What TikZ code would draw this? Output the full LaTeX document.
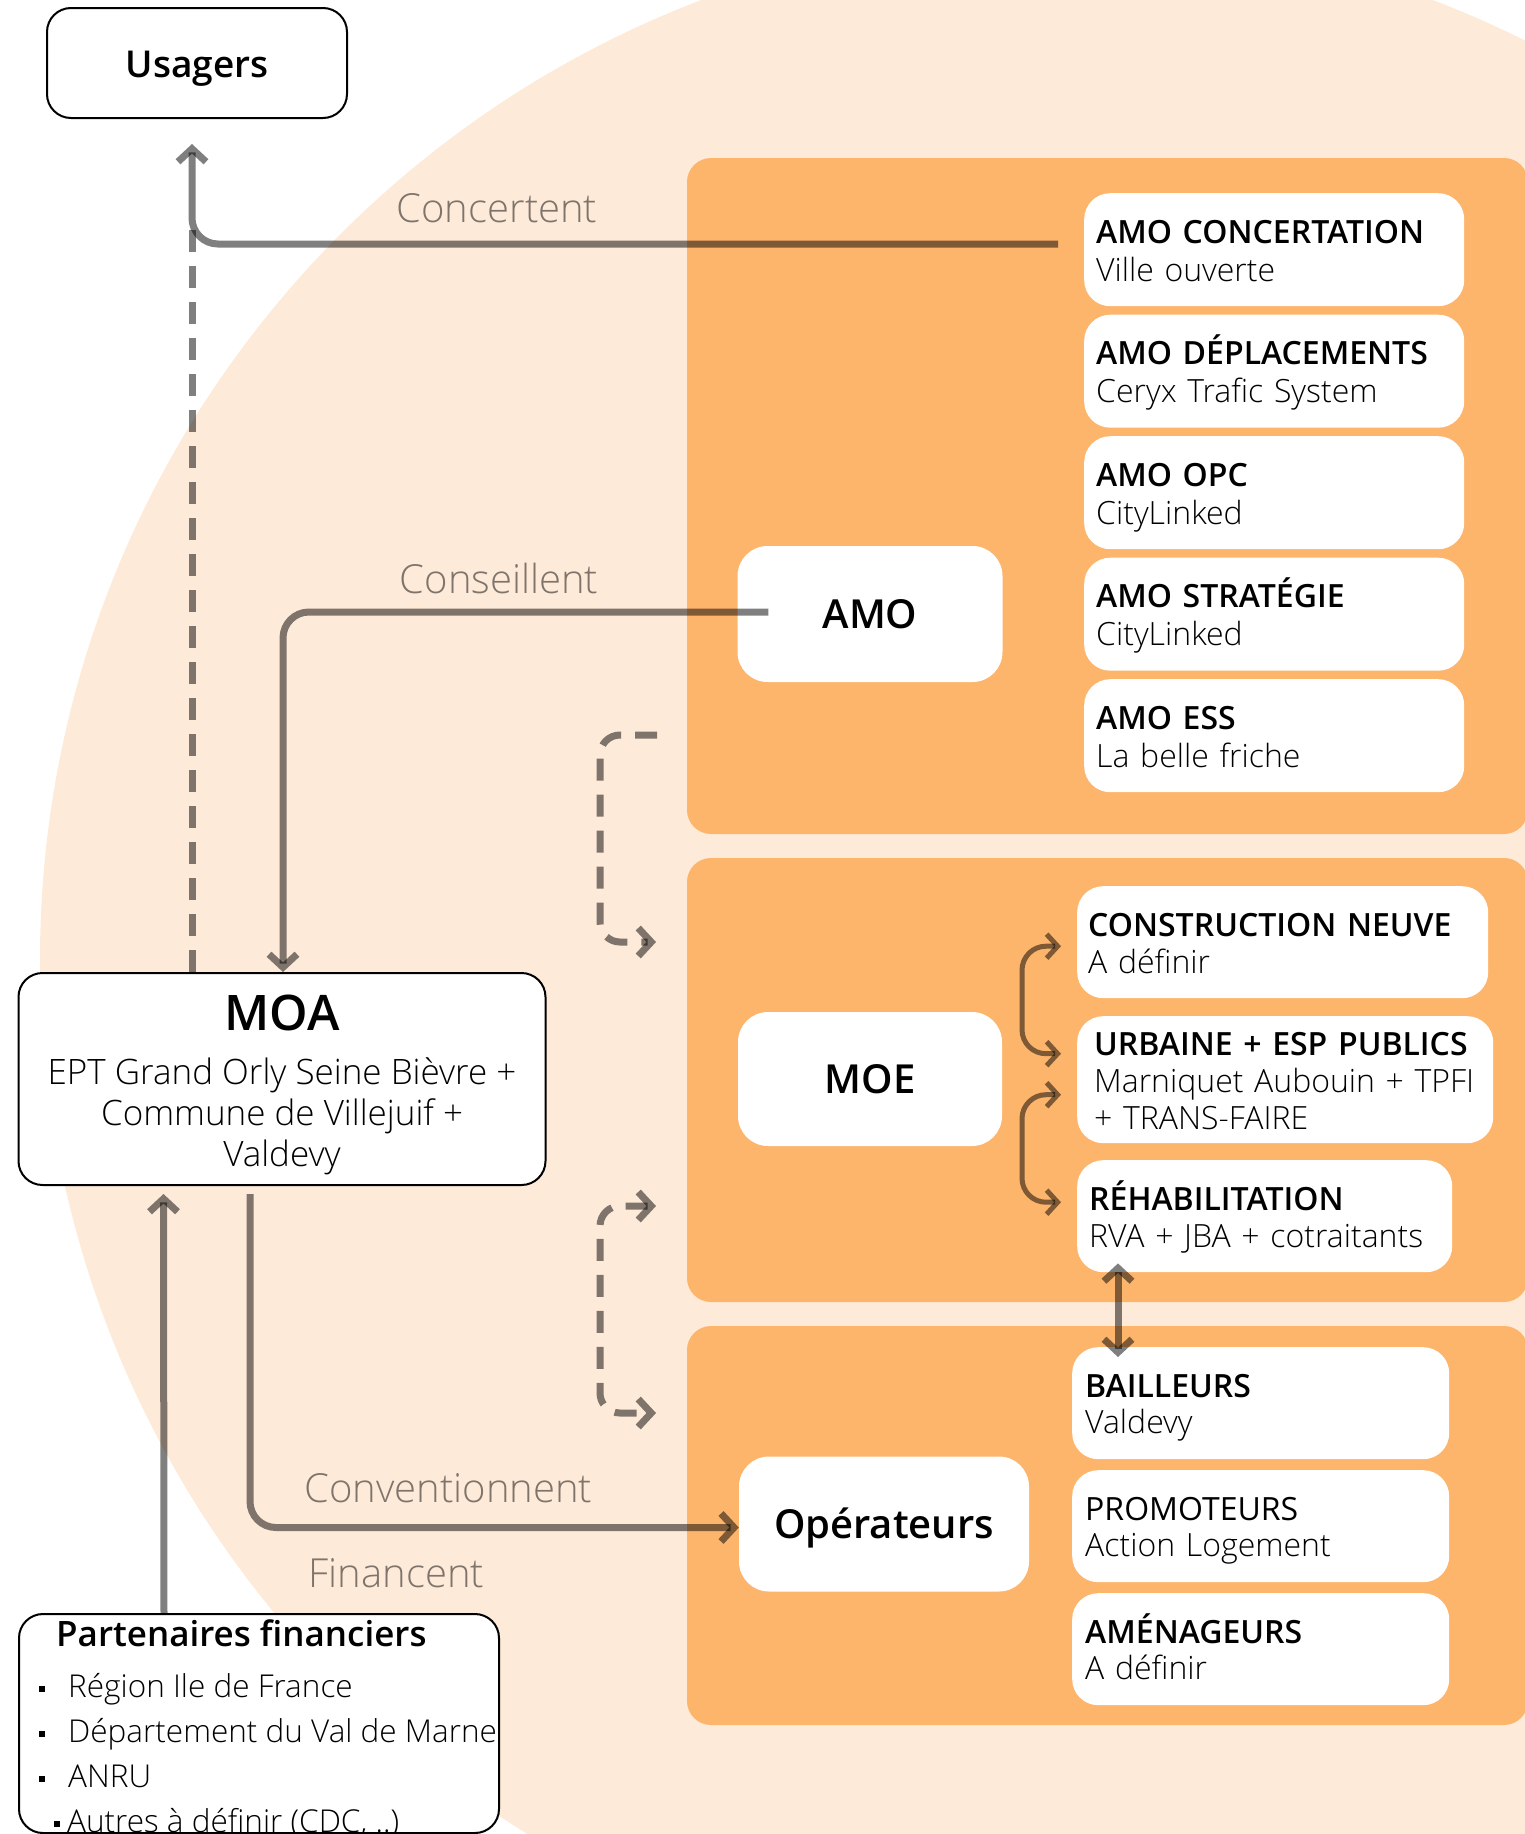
\documentclass[tikz,border=0pt]{standalone}
\usepackage{fontspec}
\setmainfont{Open Sans}
\newfontfamily\leger{Open Sans Light}
\newfontfamily\gras{Open Sans Semibold}
\usetikzlibrary{arrows.meta,positioning}

\definecolor{peche}{RGB}{254,234,216}
\definecolor{orangeclair}{RGB}{253,180,107}

% etais pour caler les lignes de base
\def\haut{\rule{0pt}{34pt}}
\def\bas{\rule[-9pt]{0pt}{9pt}}

\tikzset{
  boite/.style={draw=black, line width=2pt, fill=white, rounded corners=24pt},
  bloc/.style={fill=white, rounded corners=30pt, font=\gras\fontsize{40}{44}\selectfont,
               execute at begin node={\rule[-10pt]{0pt}{48pt}}},
  carte/.style={fill=white, rounded corners=26pt, anchor=north west, align=left, inner ysep=0pt},
  lien/.style={draw=black, draw opacity=0.5, line width=7pt, rounded corners=26pt},
  pointille/.style={lien, rounded corners=20pt, dash pattern=on 22pt off 14pt},
  tete/.style={-{Straight Barb[length=13pt,width=28pt]}},
  deuxtetes/.style={{Straight Barb[length=13pt,width=28pt]}-{Straight Barb[length=13pt,width=28pt]}},
  petites/.style={line width=5pt, rounded corners=24pt, {Straight Barb[length=11pt,width=24pt]}-{Straight Barb[length=11pt,width=24pt]}},
  etiquette/.style={font=\leger\fontsize{40}{40}\selectfont, text=black, text opacity=0.5},
  puce/.style={anchor=base west, inner sep=0pt, font=\leger\fontsize{31.5}{31.5}\selectfont},
}

\begin{document}
\begin{tikzpicture}[x=1pt, y=-1pt]
\useasboundingbox (0,0) rectangle (1525,1834);

% fond
\fill[peche] (1067,960) circle [radius=1027];
\fill[orangeclair, rounded corners=24pt] (687,158) rectangle (1528,834);
\fill[orangeclair, rounded corners=24pt] (687,858) rectangle (1528,1302);
\fill[orangeclair, rounded corners=24pt] (687,1326) rectangle (1528,1725);

% acteurs
\node[boite, minimum width=300pt, minimum height=110pt, font=\gras\fontsize{37}{40}\selectfont] (usagers) at (197,63)
  {\rule[-9pt]{0pt}{46pt}Usagers};
\node[boite, minimum width=527pt, minimum height=212pt, inner ysep=0pt, align=center, font=\leger\fontsize{35}{41}\selectfont] (moa) at (282,1079)
  {{\gras\fontsize{49}{54}\selectfont \rule{0pt}{48pt}MOA}\\[13pt]EPT Grand Orly Seine Bièvre +\\Commune de Villejuif +\\Valdevy\rule[-10pt]{0pt}{10pt}};

\node[bloc, minimum width=265pt, minimum height=136pt] (amo) at (870,614) {AMO};
\node[bloc, minimum width=264pt, minimum height=134pt] (moe) at (870,1079) {MOE};
\node[bloc, minimum width=290pt, minimum height=135pt] (ope) at (884,1524) {Opérateurs};

% AMO
\foreach \titre/\nom [count=\i from 0] in {AMO CONCERTATION/Ville ouverte, AMO DÉPLACEMENTS/Ceryx Trafic System,
    AMO OPC/CityLinked, AMO STRATÉGIE/CityLinked, AMO ESS/La belle friche}
  \node[carte, inner xsep=12pt, minimum width=380pt, minimum height=113pt, text width=356pt,
        font=\fontsize{32}{38}\selectfont] (amo\i) at (1084,{193+121.5*\i}) {{\gras\haut \titre}\\{\leger \nom\bas}};

% MOE
\node[carte, inner xsep=11pt, minimum width=411pt, minimum height=112pt, text width=389pt,
      font=\fontsize{32}{37}\selectfont] (moe1) at (1077,886) {{\gras\haut CONSTRUCTION NEUVE}\\{\leger A définir\bas}};
\node[carte, inner xsep=17pt, minimum width=416pt, minimum height=127pt, text width=382pt,
      font=\fontsize{32}{37}\selectfont] (moe2) at (1077,1016) {{\gras\haut URBAINE + ESP PUBLICS}\\{\leger Marniquet Aubouin + TPFI}\\{\leger + TRANS-FAIRE\bas}};
\node[carte, inner xsep=12pt, minimum width=375pt, minimum height=112pt, text width=351pt,
      font=\fontsize{32}{37}\selectfont] (moe3) at (1077,1160) {{\gras\haut RÉHABILITATION}\\{\leger RVA + JBA + cotraitants\bas}};

% operateurs
\foreach \titre/\nom [count=\i] in {{\gras BAILLEURS}/Valdevy, PROMOTEURS/Action Logement, {\gras AMÉNAGEURS}/A définir}
  \node[carte, inner xsep=13pt, minimum width=377pt, minimum height=112pt, text width=351pt,
        font=\fontsize{32}{36}\selectfont] (op\i) at (1072,{1347+123*(\i-1)}) {\haut\titre\\{\leger \nom\bas}};

% partenaires
\node[boite, anchor=north west, minimum width=480pt, minimum height=219pt] (part) at (18,1613) {};
\node[anchor=base west, inner sep=0pt, font=\gras\fontsize{35}{35}\selectfont] (parttitre) at (56,1646) {Partenaires financiers};
\foreach \ligne [count=\i from 0] in {Région Ile de France, Département du Val de Marne, ANRU}
  \node[puce] (puce\i) at (39,{1697+45*\i}) {\rule[5pt]{6pt}{6pt}\hspace{23pt}\ligne};
\node[puce] (puce3) at (54,1832) {\rule[5pt]{6pt}{6pt}\hspace{7pt}Autres à définir (CDC, ..)};

% liens
\coordinate (coude) at (192,244);
\draw[pointille] ([xshift=-90pt]moa.north) -- ([yshift=14pt]coude);
\draw[lien, tete, shorten <=26pt, shorten >=25pt] ([yshift=5.5pt]amo0.west) -- (coude) -- (coude |- usagers.south);
\node[etiquette] (lconcertent) at (497,208) {Concertent};

\draw[lien, tete] ([xshift=31pt, yshift=2pt]amo.west) -| ([xshift=1pt]moa.north);
\node[etiquette] (lconseillent) at (499,578) {Conseillent};

\draw[lien, tete] ([xshift=-32pt, yshift=-8pt]moa.south) |- ([yshift=-3.5pt]ope.west);
\node[etiquette, anchor=west] (lconvention) at (301,1488) {Conventionnent};

\draw[lien, tete] ([xshift=146pt]part.north west) -- ([xshift=146pt, yshift=-8pt]moa.south west);
\node[etiquette, anchor=west] (lfinance) at (305,1573) {Financent};

% entre les cadres
\coordinate (amobas) at (657,735);
\coordinate (moehaut) at (656,942);
\coordinate (moebas) at (656,1206);
\coordinate (opehaut) at (656,1413);
\draw[pointille, tete] (amobas) -- ++(-57,0) |- (moehaut);
\draw[pointille, deuxtetes] (moebas) -- ++(-56,0) |- (opehaut);

\draw[lien, petites] ([xshift=-16pt, yshift=-4pt]moe1.west) -- ++(-39,0) |- ([xshift=-16pt, yshift=26pt]moe2.west);
\draw[lien, petites] ([xshift=-16pt, yshift=-15pt]moe2.west) -- ++(-39,0) |- ([xshift=-16pt, yshift=14pt]moe3.west);
\draw[lien, deuxtetes] ([xshift=41pt, yshift=9pt]moe3.south west) -- ([xshift=46pt, yshift=-10pt]op1.north west);
\end{tikzpicture}
\end{document}
